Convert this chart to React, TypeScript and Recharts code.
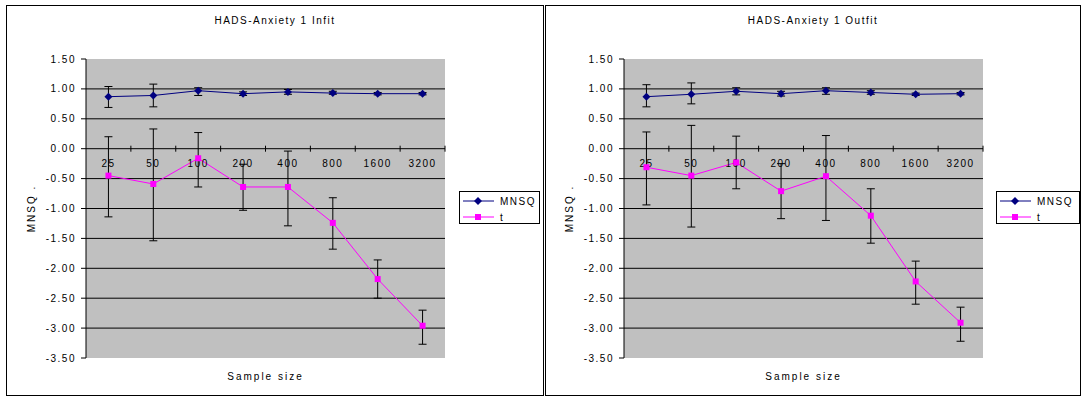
import { ComposedChart, Line, ErrorBar, XAxis, YAxis, CartesianGrid, ReferenceLine, Scatter } from 'recharts'

const sampleSizes = ['25', '50', '100', '200', '400', '800', '1600', '3200']
const yTicks = [1.5, 1, 0.5, 0, -0.5, -1, -1.5, -2, -2.5, -3, -3.5]
const gridValues = [1, 0.5, 0, -0.5, -1, -1.5, -2, -2.5, -3]
const boundaryTicks = [1, 2, 3, 4, 5, 6, 7, 8]
const seriesNames = ['MNSQ', 't']

// Infit
const infitMnsq = [0.87, 0.89, 0.97, 0.92, 0.95, 0.93, 0.92, 0.92]
const infitMnsqLow = [0.69, 0.70, 0.89, 0.89, 0.91, 0.91, 0.90, 0.90]
const infitMnsqHigh = [1.04, 1.08, 1.02, 0.95, 0.99, 0.96, 0.94, 0.94]
const infitT = [-0.45, -0.59, -0.16, -0.64, -0.64, -1.24, -2.18, -2.96]
const infitTLow = [-1.14, -1.54, -0.64, -1.03, -1.29, -1.68, -2.5, -3.27]
const infitTHigh = [0.2, 0.33, 0.27, -0.26, -0.04, -0.82, -1.86, -2.7]

// Outfit
const outfitMnsq = [0.87, 0.91, 0.96, 0.92, 0.97, 0.94, 0.91, 0.92]
const outfitMnsqLow = [0.7, 0.75, 0.9, 0.88, 0.91, 0.91, 0.89, 0.9]
const outfitMnsqHigh = [1.07, 1.1, 1.02, 0.96, 1.02, 0.97, 0.93, 0.94]
const outfitT = [-0.31, -0.45, -0.23, -0.71, -0.46, -1.12, -2.22, -2.91]
const outfitTLow = [-0.94, -1.31, -0.67, -1.17, -1.2, -1.58, -2.6, -3.22]
const outfitTHigh = [0.28, 0.39, 0.21, -0.25, 0.22, -0.67, -1.88, -2.65]

const NAVY = '#000080'
const MAGENTA = '#FF00FF'
const FONT = '"Liberation Sans", Arial, sans-serif'
const textStyle = { fill: '#000', fontSize: 10, fontFamily: FONT, letterSpacing: 1.5 }

function buildRows(mnsq: number[], mnsqLow: number[], mnsqHigh: number[], t: number[], tLow: number[], tHigh: number[]) {
  return sampleSizes.map((size, i) => ({
    x: i + 0.5,
    size,
    zero: 0,
    mnsq: mnsq[i],
    mnsqErr: [mnsq[i] - mnsqLow[i], mnsqHigh[i] - mnsq[i]],
    t: t[i],
    tErr: [t[i] - tLow[i], tHigh[i] - t[i]],
  }))
}

const diamondDot = (p: any) => (
  <polygon
    key={`d-${p.index}`}
    points={`${p.cx},${p.cy - 4} ${p.cx + 4},${p.cy} ${p.cx},${p.cy + 4} ${p.cx - 4},${p.cy}`}
    fill={NAVY}
  />
)

const squareDot = (p: any) => (
  <rect key={`s-${p.index}`} x={p.cx - 3} y={p.cy - 3} width={6} height={6} fill={MAGENTA} />
)

const categoryLabel = (p: any) => (
  <text x={p.cx} y={p.cy + 18} textAnchor="middle" {...textStyle}>
    {p.payload.size}
  </text>
)

const boundaryTick = (p: any) => <line x1={p.cx} y1={p.cy - 3} x2={p.cx} y2={p.cy + 3} stroke="#000" />

function Legend({ left, width }: { left: number; width: number }) {
  return (
    <div style={{ position: 'absolute', left, top: 185, width, height: 33, border: '1px solid #000', boxSizing: 'border-box', background: '#fff' }}>
      {seriesNames.map((name, i) => (
        <div key={name} style={{ position: 'absolute', left: 3, top: 2 + i * 16, height: 14, display: 'flex', alignItems: 'center' }}>
          <svg width={32} height={14}>
            <line x1={0} y1={7} x2={31} y2={7} stroke={i === 0 ? NAVY : MAGENTA} strokeWidth={1} />
            {i === 0
              ? <polygon points="15,3 19,7 15,11 11,7" fill={NAVY} />
              : <rect x={12} y={4} width={6} height={6} fill={MAGENTA} />}
          </svg>
          <span style={{ marginLeft: 5, fontFamily: FONT, fontSize: 10, letterSpacing: 1.5, color: '#000' }}>{name}</span>
        </div>
      ))}
    </div>
  )
}

interface PanelProps {
  title: string
  left: number
  width: number
  rightMargin: number
  leftMargin: number
  legendLeft: number
  legendWidth: number
  rows: ReturnType<typeof buildRows>
}

function FitPanel({ title, left, width, rightMargin, leftMargin, legendLeft, legendWidth, rows }: PanelProps) {
  return (
    <div style={{ position: 'absolute', left, top: 5, width, height: 391, border: '1px solid #000', boxSizing: 'border-box', background: '#fff' }}>
      <div style={{ position: 'absolute', top: 9, left: 0, width: '100%', textAlign: 'center', fontFamily: FONT, fontSize: 10, letterSpacing: 1.5, color: '#000' }}>
        {title}
      </div>
      <ComposedChart width={width - 2} height={389} data={rows} margin={{ top: 53, right: rightMargin, bottom: 7, left: leftMargin }}>
        <CartesianGrid horizontal={false} vertical={false} fill="#C0C0C0" fillOpacity={1} />
        {gridValues.map(v => (
          <ReferenceLine key={v} y={v} stroke="#000" strokeWidth={1} />
        ))}
        <XAxis
          dataKey="x"
          type="number"
          domain={[0, 8]}
          tick={false}
          tickLine={false}
          axisLine={false}
          height={30}
          label={{ value: 'Sample size', position: 'insideBottom', offset: 8, letterSpacing: 2, style: { ...textStyle, letterSpacing: 2 } }}
        />
        <YAxis
          type="number"
          domain={[-3.5, 1.5]}
          ticks={yTicks}
          interval={0}
          tickFormatter={(v: number) => v.toFixed(2)}
          width={69}
          axisLine={{ stroke: '#000' }}
          tickLine={{ stroke: '#000' }}
          tickSize={5}
          tickMargin={5}
          tick={textStyle}
          label={{ value: 'MNSQ .', angle: -90, position: 'insideLeft', offset: 14, letterSpacing: 2, style: { ...textStyle, letterSpacing: 2, textAnchor: 'middle' } }}
        />
        <Scatter data={boundaryTicks.map(x => ({ x, zero: 0 }))} dataKey="zero" shape={boundaryTick} isAnimationActive={false} />
        <Scatter dataKey="zero" shape={categoryLabel} isAnimationActive={false} />
        <Line dataKey="mnsq" stroke={NAVY} strokeWidth={1} dot={diamondDot} activeDot={false} isAnimationActive={false}>
          <ErrorBar dataKey="mnsqErr" direction="y" width={4} stroke="#000" strokeWidth={1} />
        </Line>
        <Line dataKey="t" stroke={MAGENTA} strokeWidth={1} dot={squareDot} activeDot={false} isAnimationActive={false}>
          <ErrorBar dataKey="tErr" direction="y" width={4} stroke="#000" strokeWidth={1} />
        </Line>
      </ComposedChart>
      <Legend left={legendLeft} width={legendWidth} />
    </div>
  )
}

export default function App() {
  const infitRows = buildRows(infitMnsq, infitMnsqLow, infitMnsqHigh, infitT, infitTLow, infitTHigh)
  const outfitRows = buildRows(outfitMnsq, outfitMnsqLow, outfitMnsqHigh, outfitT, outfitTLow, outfitTHigh)
  return (
    <div style={{ position: 'relative', width: 1085, height: 400, background: '#fff' }}>
      <style>{'body { margin: 0; }'}</style>
      <FitPanel
        title="HADS-Anxiety 1 Infit"
        left={6}
        width={538}
        leftMargin={10}
        rightMargin={98}
        legendLeft={452}
        legendWidth={81}
        rows={infitRows}
      />
      <FitPanel
        title="HADS-Anxiety 1 Outfit"
        left={545}
        width={536}
        leftMargin={9}
        rightMargin={97}
        legendLeft={450}
        legendWidth={84}
        rows={outfitRows}
      />
    </div>
  )
}
